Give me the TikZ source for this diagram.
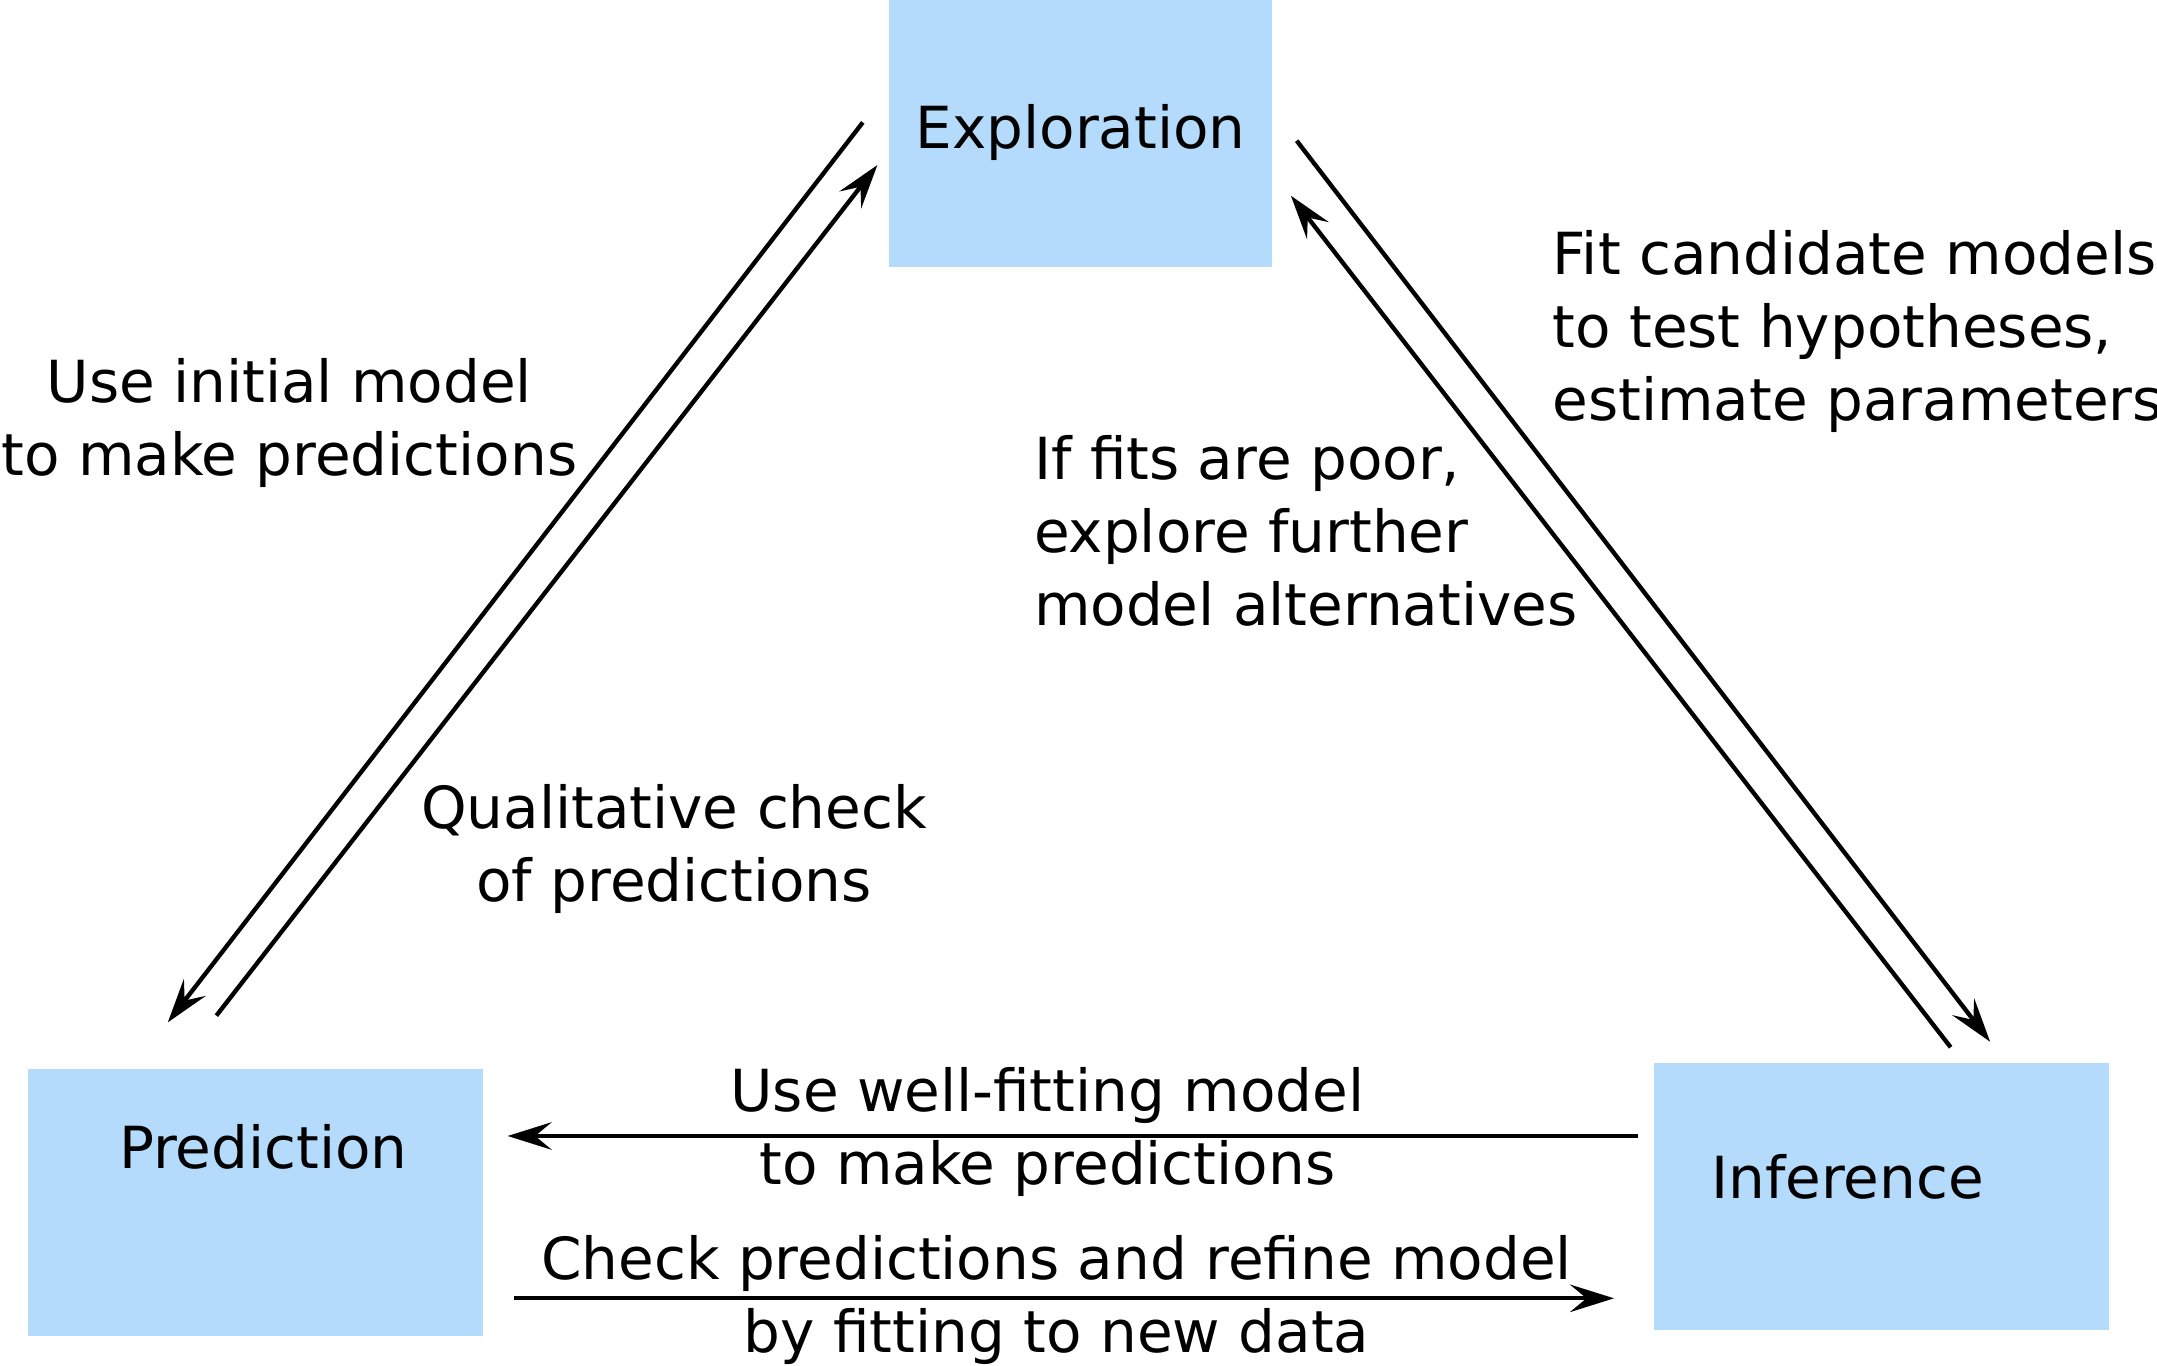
\documentclass[tikz,border=0pt]{standalone}
\usepackage{fontspec}
\setmainfont{DejaVu Sans}
\usetikzlibrary{positioning,arrows.meta}
\definecolor{PhaseBlue}{RGB}{181,219,252}
\tikzset{
  flow/.style={-{Stealth[length=3.2mm,width=2mm,inset=1.2mm]},line width=0.9pt,draw=black},
  phase/.style={fill=PhaseBlue,draw=none,minimum width=33.1mm,minimum height=19.4mm,inner sep=0pt},
  phasetext/.style={anchor=base,inner sep=0pt,font=\fontsize{12}{15.1}\selectfont},
  note/.style={inner sep=0pt,align=center,anchor=base,font=\fontsize{12}{15.1}\selectfont},
  leftnote/.style={note,align=left,anchor=base west}
}

\begin{document}
\begin{tikzpicture}[x=0.1mm,y=-0.1mm]
  \useasboundingbox (0,0) rectangle (1568,993);
  % the three phases
  \node[phase,minimum width=27.8mm] (explore) at (785.5,97) {};
  \node[phase] (pred) at (185.5,874) {};
  \node[phase] (infer) at (1367.5,869.5) {};
  \node[phasetext] (exploretext) at ([shift={(0,10.6)}]explore.center) {Exploration};
  \node[phasetext] (predtext) at ([shift={(6,-24.7)}]pred.center) {Prediction};
  \node[phasetext] (infertext) at ([shift={(-24.5,1.5)}]infer.center) {Inference};

  % exploration <-> prediction
  \draw[flow] ([shift={(-18.6,89.7)}]explore.north west) -- ([shift={(102.7,-33.1)}]pred.north west);
  \draw[flow] ([shift={(138,-38)}]pred.north west) -- ([shift={(-8,120.7)}]explore.north west);
  \node[note] (initial) at (210.3,346) {Use initial model\\to make predictions};
  \node[note] (qualcheck) at (490,655) {Qualitative check\\of predictions};

  % exploration <-> inference
  \draw[flow] ([shift={(17.4,103)}]explore.north east) -- ([shift={(245.4,-14.5)}]infer.north west);
  \draw[flow] ([shift={(216.7,-10.5)}]infer.north west) -- ([shift={(13.2,143)}]explore.north east);
  \node[leftnote] (fitmodels) at (1128,306) {Fit candidate models\\to test hypotheses,\\estimate parameters};
  \node[leftnote] (poorfits) at (751,455) {If fits are poor,\\explore further\\model alternatives};

  % inference <-> prediction
  \draw[flow] ([shift={(-10.5,-43.7)}]infer.west) --
    node[note,pos=0.5226,yshift=-3.52mm] (wellfit) {Use well-fitting model\\to make predictions}
    ([shift={(17.3,-48.2)}]pred.east);
  \draw[flow] ([shift={(22.2,69.8)}]pred.east) --
    node[note,pos=0.493,yshift=-3.92mm] (refine) {Check predictions and refine model\\by fitting to new data}
    ([shift={(-28,74.3)}]infer.west);
\end{tikzpicture}
\end{document}
